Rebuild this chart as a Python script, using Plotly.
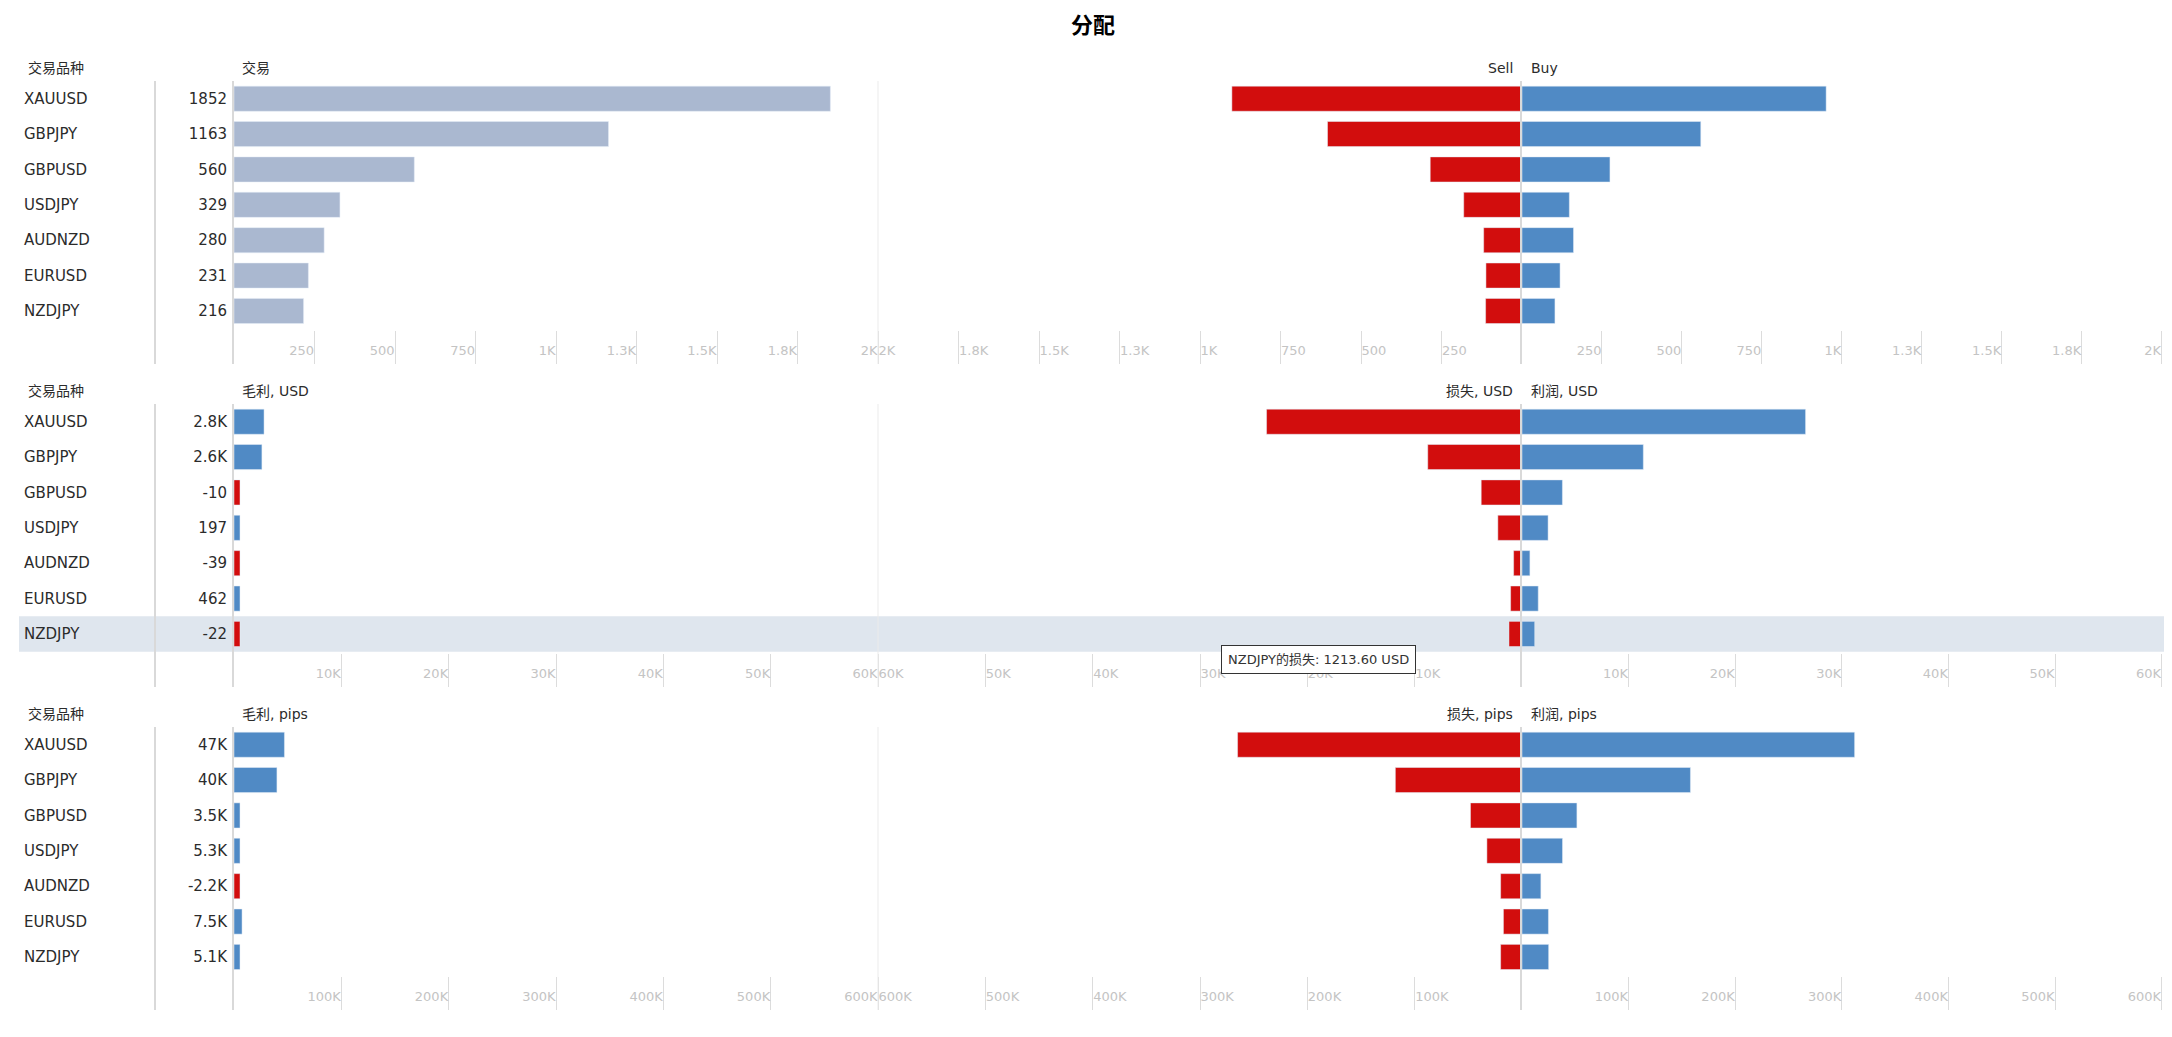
import plotly.graph_objects as go

# Chart data
SYMBOLS = ["XAUUSD", "GBPJPY", "GBPUSD", "USDJPY", "AUDNZD", "EURUSD", "NZDJPY"]

TRADES = [1852, 1163, 560, 329, 280, 231, 216]
TRADES_SELL = [901, 604, 285, 181, 119, 112, 113]
TRADES_BUY = [951, 559, 275, 148, 161, 119, 103]
TRADES_LABELS = ["1852", "1163", "560", "329", "280", "231", "216"]

GROSS_USD = [2800, 2600, -10, 197, -39, 462, -22]
GROSS_USD_LABELS = ["2.8K", "2.6K", "-10", "197", "-39", "462", "-22"]
LOSS_USD = [23800, 8780, 3800, 2250, 780, 1060, 1213.60]
PROFIT_USD = [26600, 11380, 3790, 2447, 741, 1522, 1191.6]

GROSS_PIPS = [47000, 40000, 3500, 5300, -2200, 7500, 5100]
GROSS_PIPS_LABELS = ["47K", "40K", "3.5K", "5.3K", "-2.2K", "7.5K", "5.1K"]
LOSS_PIPS = [265000, 118000, 48000, 32700, 19900, 17300, 19900]
PROFIT_PIPS = [312000, 158000, 51500, 38000, 17700, 24800, 25000]

# Axis ticks
TRADES_TICKS = [250, 500, 750, 1000, 1250, 1500, 1750, 2000]
TRADES_TICK_TEXT = ["250", "500", "750", "1K", "1.3K", "1.5K", "1.8K", "2K"]
USD_TICKS = [10000, 20000, 30000, 40000, 50000, 60000]
USD_TICK_TEXT = ["10K", "20K", "30K", "40K", "50K", "60K"]
PIPS_TICKS = [100000, 200000, 300000, 400000, 500000, 600000]
PIPS_TICK_TEXT = ["100K", "200K", "300K", "400K", "500K", "600K"]

HOVER_SYMBOL = "NZDJPY"
HOVER_TEXT = "NZDJPY的损失: 1213.60 USD"

# page body keeps an 8px margin around the figure
OFF = 8
W, H = 2172 - 2 * OFF, 1037 - 2 * OFF
RED = "#d20d0d"
BLUE = "#508ac5"
GREY_BAR = "#aab8d0"
FONT = "DejaVu Sans, Noto Sans CJK SC"
MIN_BAR_PX = 6
PANEL_PX = 644
# plotly drops an inside tick label sitting exactly on the range end
RANGE_PAD = 1.002


def px_x(v):
    return min(max((v - OFF) / W, 0), 0.9995)


def px_y(v):
    return 1 - (v - OFF) / H


def sfx(k):
    # plotly calls the first axis "x"/"y", not "x1"/"y1"
    return "" if k == 1 else str(k)


def make_row(fig, row, gross, gross_labels, gross_colors, sell, buy, ticks, tick_text, headers):
    # three panels per row: gross, sell/loss (mirrored), buy/profit
    top = 81 + 323 * row
    bottom = 364 + 323 * row
    ydom = [px_y(bottom), px_y(top)]
    axis_max = ticks[-1]
    n = row * 3
    xl, xs, xb = n + 1, n + 2, n + 3

    # keep tiny bars visible, like the original chart does
    min_len = MIN_BAR_PX / PANEL_PX * axis_max
    gross_len = [max(abs(v), min_len) for v in gross]

    fig.add_trace(go.Bar(x=gross_len, y=SYMBOLS, orientation="h", marker_color=gross_colors,
                         xaxis=f"x{sfx(xl)}", yaxis=f"y{sfx(xl)}", hoverinfo="skip"))
    fig.add_trace(go.Bar(x=sell, y=SYMBOLS, orientation="h", marker_color=RED,
                         xaxis=f"x{sfx(xs)}", yaxis=f"y{sfx(xs)}", hoverinfo="skip"))
    fig.add_trace(go.Bar(x=buy, y=SYMBOLS, orientation="h", marker_color=BLUE,
                         xaxis=f"x{sfx(xb)}", yaxis=f"y{sfx(xb)}", hoverinfo="skip"))

    xdoms = {xl: [px_x(234), px_x(878 + 1.3)], xs: [px_x(878), px_x(1522)],
             xb: [px_x(1522), px_x(2166 + 1.3)]}
    label_pos = {xl: "inside left", xs: "inside right", xb: "inside left"}
    for k in (xl, xs, xb):
        fig.layout[f"xaxis{sfx(k)}"] = dict(
            domain=xdoms[k], anchor=f"y{sfx(k)}",
            range=[axis_max, 0] if k == xs else [0, axis_max * RANGE_PAD],
            tickmode="array", tickvals=ticks, ticktext=tick_text,
            ticks="inside", ticklen=33, tickcolor="#dcdcdc", tickwidth=1,
            ticklabelposition=label_pos[k],
            tickfont=dict(size=13, color="#c4c4c4", family=FONT),
            showgrid=False, zeroline=False, showline=False, automargin=False,
        )

    common_y = dict(domain=ydom, range=[len(SYMBOLS) + 0.5, -0.5], type="category",
                    categoryorder="array", categoryarray=SYMBOLS,
                    showgrid=False, zeroline=False, automargin=False, ticks="")
    # gross values as tick labels next to the axis line
    fig.layout[f"yaxis{sfx(xl)}"] = dict(common_y, anchor=f"x{sfx(xl)}", side="left",
                                         tickmode="array", tickvals=SYMBOLS, ticktext=gross_labels,
                                         ticklabelstandoff=2,
                                         tickfont=dict(size=15, color="#2b2b2b", family=FONT),
                                         showline=True, linecolor="#d9d9d9", linewidth=2)
    # symbol names on the far left
    fig.layout[f"yaxis{sfx(xs)}"] = dict(common_y, anchor="free", position=px_x(23), side="right",
                                         tickfont=dict(size=15, color="#2b2b2b", family=FONT),
                                         showline=False)
    # divider between sell and buy
    fig.layout[f"yaxis{sfx(xb)}"] = dict(common_y, anchor=f"x{sfx(xb)}", side="left",
                                         showticklabels=False,
                                         showline=True, linecolor="#d9d9d9", linewidth=2)

    # table divider and panel edge
    yref = f"y{sfx(xl)} domain"
    fig.add_shape(type="line", xref="paper", yref=yref, x0=px_x(155), x1=px_x(155),
                  y0=0, y1=1, line=dict(color="#d9d9d9", width=2))
    fig.add_shape(type="line", xref="paper", yref=yref, x0=px_x(878), x1=px_x(878),
                  y0=0, y1=1, line=dict(color="#ebebeb", width=1))

    # header labels
    hy = px_y(top - 13)
    head_font = dict(size=14, color="#2b2b2b", family=FONT)
    fig.add_annotation(text="交易品种", x=px_x(26), y=hy, xanchor="left", font=head_font)
    fig.add_annotation(text=headers[0], x=px_x(240), y=hy, xanchor="left", font=head_font)
    fig.add_annotation(text=headers[1], x=px_x(1515), y=hy, xanchor="right", font=head_font)
    fig.add_annotation(text=headers[2], x=px_x(1529), y=hy, xanchor="left", font=head_font)


def main():
    fig = go.Figure()

    make_row(fig, 0, TRADES, TRADES_LABELS, [GREY_BAR] * len(TRADES), TRADES_SELL, TRADES_BUY,
             TRADES_TICKS, TRADES_TICK_TEXT, ["交易", "Sell", "Buy"])
    make_row(fig, 1, GROSS_USD, GROSS_USD_LABELS, [RED if v < 0 else BLUE for v in GROSS_USD],
             LOSS_USD, PROFIT_USD, USD_TICKS, USD_TICK_TEXT, ["毛利, USD", "损失, USD", "利润, USD"])
    make_row(fig, 2, GROSS_PIPS, GROSS_PIPS_LABELS, [RED if v < 0 else BLUE for v in GROSS_PIPS],
             LOSS_PIPS, PROFIT_PIPS, PIPS_TICKS, PIPS_TICK_TEXT, ["毛利, pips", "损失, pips", "利润, pips"])

    # hovered row highlight + tooltip in the middle row
    idx = SYMBOLS.index(HOVER_SYMBOL)
    fig.add_shape(type="rect", xref="paper", yref="y4", x0=px_x(19), x1=1,
                  y0=idx - 0.5, y1=idx + 0.5, fillcolor="#dfe6ee", line_width=0, layer="below")
    fig.add_annotation(text=HOVER_TEXT, x=px_x(1318), y=px_y(659),
                       bgcolor="white", bordercolor="#333333", borderwidth=1,
                       borderpad=6, font=dict(size=13, color="#333333", family=FONT))

    fig.update_annotations(xref="paper", yref="paper", showarrow=False, yanchor="middle")

    fig.update_layout(
        width=W, height=H,
        title=dict(text="<b>分配</b>", x=px_x(1093), xanchor="center", y=px_y(25), yref="container",
                   yanchor="middle", font=dict(size=22, color="#000000", family=FONT)),
        margin=dict(l=0, r=0, t=0, b=0),
        bargap=0.29,
        showlegend=False,
        paper_bgcolor="white",
        plot_bgcolor="rgba(0,0,0,0)",
        hovermode=False,
    )

    fig.write_html("out.html")


if __name__ == "__main__":
    main()
